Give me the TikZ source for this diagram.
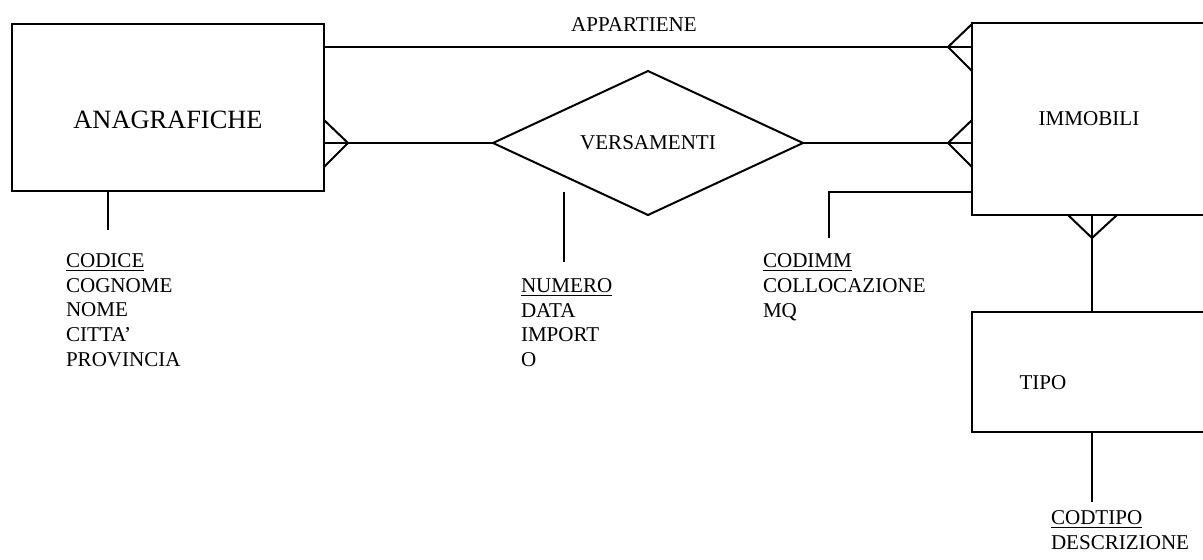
\documentclass[tikz,border=0pt]{standalone}
\usepackage{fontspec}
\setmainfont{Liberation Serif}
\usetikzlibrary{calc}
\begin{document}
\begin{tikzpicture}[x=0.75pt,y=-0.75pt,
  line width=1.5pt,
  entity/.style={draw, rectangle, inner sep=0pt, line width=1.5pt},
  small/.style={font=\fontsize{15.8}{18.4}\selectfont},
  big/.style={font=\fontsize{19.8}{23}\selectfont},
  attr/.style={small, align=left, anchor=base west, inner sep=0pt},
  conn/.style={line width=1.5pt},
  crow/.style={line width=1.5pt}
]
\useasboundingbox (0,0) rectangle (1203,560);
% entities
\node[entity, minimum width=234pt, minimum height=125.25pt] (ana) at (168,107.5) {};
\node[big] (anal) at (168,120) {ANAGRAFICHE};
\node[entity, small, minimum width=175.5pt, minimum height=144pt] (imm) at (1089,119) {IMMOBILI};
\node[entity, minimum width=175.5pt, minimum height=90pt] (tipo) at (1089,372) {};
\node[small] (tipol) at (1043,383) {TIPO};
% relationship diamond
\coordinate (dl) at (493,143);
\coordinate (dt) at (648,71);
\coordinate (dr) at (803,143);
\coordinate (db) at (648,215);
\draw (dl) -- (dt) -- (dr) -- (db) -- cycle;
\node[small] (vers) at (648,143) {VERSAMENTI};
% APPARTIENE
\node[small] (app) at (634,25) {APPARTIENE};
\coordinate (appy) at (634,47);
\draw[conn] (ana.east |- appy) -- (imm.west |- appy);
\draw[crow] (948,47) -- (972,24) (948,47) -- (972,71);
% VERSAMENTI connectors
\draw[conn] (ana.east |- dl) -- (dl);
\draw[conn] (dr) -- (imm.west |- dr);
\draw[crow] (348,143) -- (324,120) (348,143) -- (324,167);
\draw[crow] (948,143) -- (972,120) (948,143) -- (972,167);
% IMMOBILI - TIPO
\coordinate (tx) at (1092,300);
\draw[conn] (imm.south -| tx) -- (tipo.north -| tx);
\draw[crow] (1092,238) -- (1068,215) (1092,238) -- (1117,215);
% attributes (anchored at the baseline of the last line)
\coordinate (aa) at (108,230);
\draw[conn] (ana.south -| aa) -- (aa);
\node[attr] (anaattr) at (65,366) {\underline{CODICE}\\COGNOME\\NOME\\CITTA’\\PROVINCIA};
\coordinate (na) at (564,192);
\coordinate (nb) at (564,262);
\draw[conn] (na) -- (nb);
\node[attr] (versattr) at (520,366.5) {\underline{NUMERO}\\DATA\\IMPORT\\O};
\coordinate (ca) at (829,238);
\coordinate (cc) at (829,192);
\draw[conn] (ca) -- (cc) -- (imm.west |- cc);
\node[attr] (immattr) at (762,317) {\underline{CODIMM}\\COLLOCAZIONE\\MQ};
\coordinate (ta) at (1092,502);
\draw[conn] (tipo.south -| ta) -- (ta);
\node[attr] (tipoattr) at (1050,549.5) {\underline{CODTIPO}\\DESCRIZIONE};
\end{tikzpicture}
\end{document}
